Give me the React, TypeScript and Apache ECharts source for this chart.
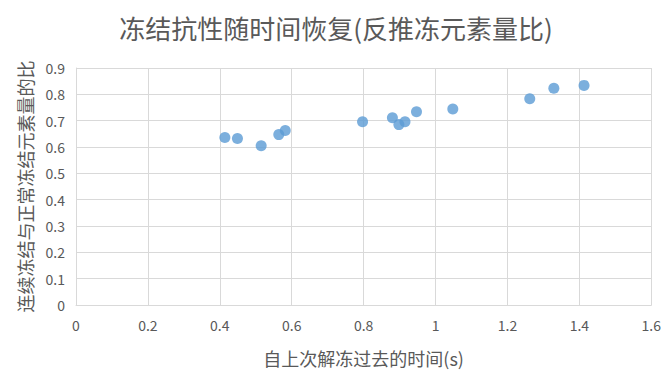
import React, { useEffect, useRef } from "react";
import * as echarts from "echarts";

const titleText = "冻结抗性随时间恢复(反推冻元素量比)";
const xAxisName = "自上次解冻过去的时间(s)";
const yAxisName = "连续冻结与正常冻结元素量的比";

const timeValues = [0.414, 0.449, 0.515, 0.564, 0.582, 0.797, 0.88, 0.898, 0.915, 0.947, 1.048, 1.262, 1.329, 1.413];
const ratioValues = [0.636, 0.632, 0.605, 0.647, 0.663, 0.696, 0.711, 0.685, 0.696, 0.734, 0.744, 0.783, 0.823, 0.834];

const FONT = "'Noto Sans CJK SC', 'Noto Sans', sans-serif";
const GRAY = "#595959";

export default function App() {
  const ref = useRef<HTMLDivElement>(null);
  useEffect(() => {
    if (!ref.current) return;
    const chart = echarts.init(ref.current, null, { renderer: "svg" });
    const data = timeValues.map((t, i) => [t, ratioValues[i]]);
    chart.setOption({
      animation: false,
      backgroundColor: "#ffffff",
      title: {
        text: titleText,
        left: "center",
        top: 3,
        padding: 0,
        textStyle: { fontFamily: FONT, fontSize: 26, lineHeight: 32, fontWeight: "normal", color: GRAY },
      },
      grid: { left: 65, right: 10, top: 60, bottom: 73 },
      xAxis: {
        type: "value",
        min: 0,
        max: 1.6,
        interval: 0.2,
        name: xAxisName,
        nameLocation: "middle",
        nameGap: 44,
        nameTextStyle: { fontFamily: FONT, fontSize: 18, color: GRAY },
        axisLine: { show: true, lineStyle: { color: "#D9D9D9", width: 1 } },
        axisTick: { show: false },
        axisLabel: { fontFamily: FONT, fontSize: 14, color: GRAY, margin: 13 },
        splitLine: { show: true, lineStyle: { color: "#D9D9D9", width: 1 } },
      },
      yAxis: {
        type: "value",
        min: 0,
        max: 0.9,
        interval: 0.1,
        name: yAxisName,
        nameLocation: "middle",
        nameGap: 42,
        nameTextStyle: { fontFamily: FONT, fontSize: 18, color: GRAY },
        axisLine: { show: true, lineStyle: { color: "#D9D9D9", width: 1 } },
        axisTick: { show: false },
        axisLabel: { fontFamily: FONT, fontSize: 14, color: GRAY, margin: 11 },
        splitLine: { show: true, lineStyle: { color: "#D9D9D9", width: 1 } },
      },
      series: [
        {
          type: "scatter",
          data,
          symbol: "circle",
          symbolSize: 11,
          itemStyle: { color: "#5B9BD5" },
        },
      ],
    });
    return () => chart.dispose();
  }, []);
  return <div ref={ref} style={{ width: 656, height: 370 }} />;
}
